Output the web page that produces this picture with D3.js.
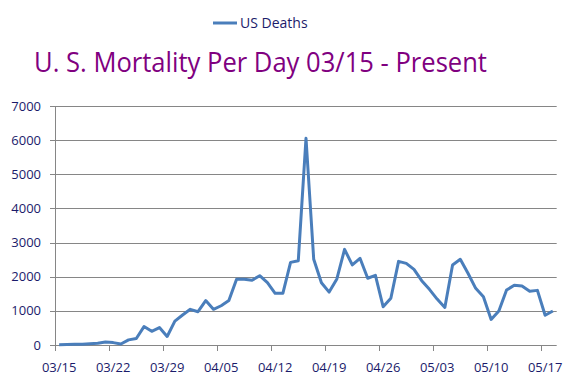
<!DOCTYPE html>
<html>
<head>
<meta charset="utf-8">
<script src="https://cdn.jsdelivr.net/npm/d3@7"></script>
<style>
  html, body { margin: 0; padding: 0; background: #fff; }
  svg { display: block; font-family: "Open Sans", "Liberation Sans", sans-serif; }
</style>
</head>
<body>
<svg id="chart" width="580" height="389"></svg>
<script>
  // daily US deaths, 03/15 .. 05/18
  const days = d3.timeDay.range(new Date(2020, 2, 15), new Date(2020, 4, 19));
  const deaths = [
    10, 15, 20, 25, 40, 50, 90, 70, 30, 150, 190, 540, 400, 510, 250, 700,
    880, 1045, 975, 1300, 1045, 1150, 1300, 1925, 1925, 1895, 2030, 1825, 1515, 1515,
    2420, 2470, 6055, 2510, 1825, 1550, 1935, 2800, 2345, 2540, 1955, 2040,
    1120, 1370, 2450, 2390, 2215, 1885, 1630, 1345, 1100, 2345, 2510, 2100,
    1660, 1415, 750, 995, 1610, 1750, 1730, 1575, 1600, 870, 995
  ];
  const xTickLabels = ["03/15", "03/22", "03/29", "04/05", "04/12", "04/19", "04/26", "05/03", "05/10", "05/17"];
  const yTicks = [0, 1000, 2000, 3000, 4000, 5000, 6000, 7000];
  const seriesName = "US Deaths";
  const titleText = "U. S. Mortality Per Day 03/15 - Present";

  const fmt = d3.timeFormat("%m/%d");
  const rows = days.map((d, i) => ({ label: fmt(d), value: deaths[i] }));

  const svg = d3.select("#chart");
  const lineColor = "#4a7ebb";
  const textColor = "#1b1b6b";
  const gridColor = "#868686";

  const x = d3.scaleBand()
    .domain(rows.map(d => d.label))
    .range([55.3, 556.7])
    .padding(0);
  const bw = x.bandwidth();

  const y = d3.scaleLinear()
    .domain([0, 7000])
    .range([345, 106]);

  // gridlines
  svg.append("g")
    .selectAll("line")
    .data(yTicks)
    .join("line")
    .attr("x1", 50)
    .attr("x2", 556.7)
    .attr("y1", d => Math.round(y(d)) + 0.5)
    .attr("y2", d => Math.round(y(d)) + 0.5)
    .attr("stroke", gridColor)
    .attr("stroke-width", 1);

  // y axis line + labels
  svg.append("line")
    .attr("x1", 55.5).attr("x2", 55.5)
    .attr("y1", y(7000)).attr("y2", y(0) + 0.5)
    .attr("stroke", gridColor);

  svg.append("g")
    .selectAll("text")
    .data(yTicks)
    .join("text")
    .attr("x", 41)
    .attr("y", d => y(d))
    .attr("dy", "0.35em")
    .attr("text-anchor", "end")
    .attr("fill", textColor)
    .style("font-size", "13px")
    .text(d => d);

  // x ticks at band edges, labels at band centres
  const xt = svg.append("g");
  xt.selectAll("line")
    .data(xTickLabels)
    .join("line")
    .attr("x1", d => Math.round(x(d)) + 0.5)
    .attr("x2", d => Math.round(x(d)) + 0.5)
    .attr("y1", y(0))
    .attr("y2", y(0) + 6)
    .attr("stroke", gridColor);
  xt.selectAll("text")
    .data(xTickLabels)
    .join("text")
    .attr("x", d => x(d) + bw / 2)
    .attr("y", 372)
    .attr("text-anchor", "middle")
    .attr("fill", textColor)
    .style("font-size", "13px")
    .text(d => d);

  // the series
  const line = d3.line()
    .x(d => x(d.label) + bw / 2)
    .y(d => y(d.value));

  svg.append("path")
    .datum(rows)
    .attr("d", line)
    .attr("fill", "none")
    .attr("stroke", lineColor)
    .attr("stroke-width", 3)
    .attr("stroke-linejoin", "round");

  // legend
  svg.append("line")
    .attr("x1", 213).attr("x2", 237)
    .attr("y1", 23).attr("y2", 23)
    .attr("stroke", lineColor)
    .attr("stroke-width", 3);
  svg.append("text")
    .attr("x", 240)
    .attr("y", 28)
    .attr("fill", textColor)
    .style("font-size", "14px")
    .text(seriesName);

  // title
  svg.append("text")
    .attr("x", 34)
    .attr("y", 72)
    .attr("fill", "#800080")
    .attr("textLength", 453)
    .attr("lengthAdjust", "spacingAndGlyphs")
    .style("font-size", "28px")
    .text(titleText);
</script>
</body>
</html>
